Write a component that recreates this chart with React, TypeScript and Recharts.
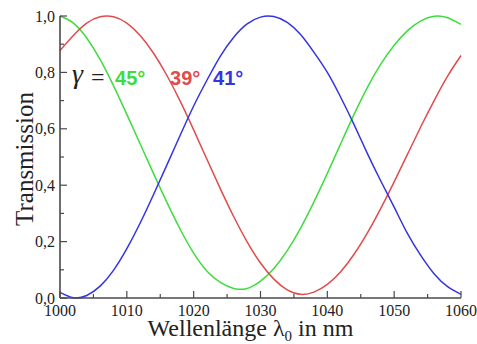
import React from 'react'
import { LineChart, Line, XAxis, YAxis, Label, ReferenceDot } from 'recharts'

// wavelength samples in nm
const wavelengths = [
  1000, 1002, 1004, 1006, 1008, 1010, 1012, 1014, 1016, 1018, 1020, 1022, 1024, 1026, 1028, 1030,
  1032, 1034, 1036, 1038, 1040, 1042, 1044, 1046, 1048, 1050, 1052, 1054, 1056, 1058, 1060,
]

// transmission for gamma = 45°
const trans45 = [
  1.0, 0.975, 0.922, 0.846, 0.753, 0.651, 0.546, 0.441, 0.339, 0.243, 0.159, 0.095, 0.055, 0.034,
  0.034, 0.06, 0.105, 0.168, 0.248, 0.341, 0.442, 0.547, 0.651, 0.747, 0.829, 0.896, 0.948, 0.983,
  0.999, 0.994, 0.97,
]

// transmission for gamma = 39°
const trans39 = [
  0.878, 0.931, 0.975, 0.997, 0.997, 0.975, 0.931, 0.868, 0.789, 0.697, 0.596, 0.491, 0.387, 0.288,
  0.199, 0.124, 0.067, 0.029, 0.013, 0.021, 0.048, 0.093, 0.155, 0.231, 0.318, 0.412, 0.51, 0.608,
  0.701, 0.787, 0.86,
]

// transmission for gamma = 41°
const trans41 = [
  0.02, 0.001, 0.009, 0.042, 0.098, 0.175, 0.266, 0.367, 0.472, 0.578, 0.681, 0.773, 0.858, 0.925,
  0.972, 0.996, 0.998, 0.977, 0.934, 0.871, 0.8, 0.712, 0.615, 0.512, 0.415, 0.322, 0.228, 0.15,
  0.085, 0.04, 0.013,
]

const xTicks = [1000, 1005, 1010, 1015, 1020, 1025, 1030, 1035, 1040, 1045, 1050, 1055, 1060]
const yTicks = [0, 0.1, 0.2, 0.3, 0.4, 0.5, 0.6, 0.7, 0.8, 0.9, 1.0]

const GREEN = '#3fdc3f'
const RED = '#e04c4c'
const BLUE = '#3434e2'
const FRAME = '#4a4a4a'
const SERIF = '"Liberation Serif", "Times New Roman", serif'
const SANS = '"Liberation Sans", Arial, sans-serif'

const chartData = wavelengths.map((lambda, i) => ({
  lambda,
  g45: trans45[i],
  r39: trans39[i],
  b41: trans41[i],
}))

const isMajorX = (v: number) => v % 10 === 0
const isMajorY = (v: number) => Math.round(v * 10) % 2 === 0

// ticks point into the plot, labels stay outside
function BottomTick(props: any) {
  const { x, y, payload } = props
  const major = isMajorX(payload.value)
  return (
    <g>
      <line x1={x} y1={y} x2={x} y2={y - (major ? 7 : 4)} stroke={FRAME} strokeWidth={1.2} />
      {major && (
        <text x={x} y={y + 18} textAnchor="middle" fontFamily={SERIF} fontSize={16} fill="#222">
          {payload.value}
        </text>
      )}
    </g>
  )
}

function TopTick(props: any) {
  const { x, y, payload } = props
  const major = isMajorX(payload.value)
  return <line x1={x} y1={y} x2={x} y2={y + (major ? 7 : 4)} stroke={FRAME} strokeWidth={1.2} />
}

function LeftTick(props: any) {
  const { x, y, payload } = props
  const major = isMajorY(payload.value)
  return (
    <g>
      <line x1={x} y1={y} x2={x + (major ? 7 : 4)} y2={y} stroke={FRAME} strokeWidth={1.2} />
      {major && (
        <text x={x - 5} y={y + 5.5} textAnchor="end" fontFamily={SERIF} fontSize={16} fill="#222">
          {payload.value.toFixed(1).replace('.', ',')}
        </text>
      )}
    </g>
  )
}

function RightTick(props: any) {
  const { x, y, payload } = props
  const major = isMajorY(payload.value)
  return <line x1={x} y1={y} x2={x - (major ? 7 : 4)} y2={y} stroke={FRAME} strokeWidth={1.2} />
}

function YTitle(props: any) {
  const { viewBox } = props
  const cx = viewBox.x + 33
  const cy = viewBox.y + viewBox.height / 2 + 2
  return (
    <text
      x={cx}
      y={cy}
      transform={`rotate(-90 ${cx} ${cy})`}
      textAnchor="middle"
      fontFamily={SERIF}
      fontSize={25}
      fill="#222"
    >
      Transmission
    </text>
  )
}

function XTitle(props: any) {
  const { viewBox } = props
  const cx = viewBox.x + viewBox.width / 2 - 10
  const cy = viewBox.y + 38
  return (
    <text x={cx} y={cy} textAnchor="middle" fontFamily={SERIF} fontSize={24} fill="#222">
      Wellenlänge λ
      <tspan fontSize={15} dy={5}>0</tspan>
      <tspan dy={-5}> in nm</tspan>
    </text>
  )
}

// "γ = 45° 39° 41°" legend written inside the plot
function GammaLegend(props: any) {
  const { viewBox } = props
  const x = viewBox.x
  const y = viewBox.y
  return (
    <g>
      <text x={x} y={y - 2} fontFamily={SERIF} fontStyle="italic" fontSize={28} fill="#222">
        γ
      </text>
      <text x={x + 19} y={y} fontFamily={SERIF} fontSize={24} fill="#222">
        =
      </text>
      <text x={x + 43} y={y} fontFamily={SANS} fontWeight="bold" fontSize={20} fill={GREEN}>
        45°
      </text>
      <text x={x + 98} y={y} fontFamily={SANS} fontWeight="bold" fontSize={20} fill={RED}>
        39°
      </text>
      <text x={x + 141} y={y} fontFamily={SANS} fontWeight="bold" fontSize={20} fill={BLUE}>
        41°
      </text>
    </g>
  )
}

export default function App() {
  return (
    <div style={{ position: 'absolute', left: 0, top: 0, background: '#fff' }}>
      <LineChart
        width={477}
        height={344}
        data={chartData}
        margin={{ top: 16, right: 16, bottom: 0, left: 0 }}
      >
        <XAxis
          dataKey="lambda"
          type="number"
          domain={[1000, 1060]}
          ticks={xTicks}
          interval={0}
          height={46}
          tickSize={0}
          tickMargin={0}
          tickLine={false}
          axisLine={{ stroke: FRAME, strokeWidth: 1.6 }}
          tick={<BottomTick />}
        >
          <Label content={<XTitle />} />
        </XAxis>
        <XAxis
          xAxisId="top"
          orientation="top"
          type="number"
          domain={[1000, 1060]}
          allowDataOverflow
          ticks={xTicks}
          interval={0}
          height={0}
          tickSize={0}
          tickMargin={0}
          tickLine={false}
          axisLine={{ stroke: FRAME, strokeWidth: 1.6 }}
          tick={<TopTick />}
        />
        <YAxis
          type="number"
          domain={[0, 1]}
          ticks={yTicks}
          interval={0}
          width={60}
          tickSize={0}
          tickMargin={0}
          tickLine={false}
          axisLine={{ stroke: FRAME, strokeWidth: 1.6 }}
          tick={<LeftTick />}
        >
          <Label content={<YTitle />} />
        </YAxis>
        <YAxis
          yAxisId="right"
          orientation="right"
          type="number"
          domain={[0, 1]}
          allowDataOverflow
          ticks={yTicks}
          interval={0}
          width={0}
          tickSize={0}
          tickMargin={0}
          tickLine={false}
          axisLine={{ stroke: FRAME, strokeWidth: 1.6 }}
          tick={<RightTick />}
        />

        <Line
          type="natural"
          dataKey="g45"
          stroke={GREEN}
          strokeWidth={1.5}
          dot={false}
          isAnimationActive={false}
        />
        <Line
          type="natural"
          dataKey="r39"
          stroke={RED}
          strokeWidth={1.5}
          dot={false}
          isAnimationActive={false}
        />
        <Line
          type="natural"
          dataKey="b41"
          stroke={BLUE}
          strokeWidth={1.5}
          dot={false}
          isAnimationActive={false}
        />

        <ReferenceDot x={1001.8} y={0.755} r={0} ifOverflow="visible" label={<GammaLegend />} />
      </LineChart>
    </div>
  )
}
